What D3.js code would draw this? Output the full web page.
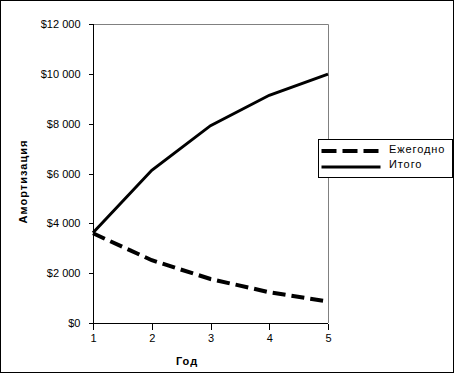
<!DOCTYPE html>
<html>
<head>
<meta charset="utf-8">
<script src="https://cdn.jsdelivr.net/npm/d3@7"></script>
<style>
  body { margin: 0; background: #fff; }
  svg { display: block; }
  text { font-family: "Liberation Sans", Arial, sans-serif; font-size: 11px; fill: #000; }
</style>
</head>
<body>
<div id="chart"></div>
<script>
// ─── Data ─────────────────────────────────────────────────────────────────────
const years = [1, 2, 3, 4, 5];
const annual = [3600, 2520, 1765, 1235, 865];
const total = [3620, 6130, 7920, 9140, 9990];
const yTicks = [0, 2000, 4000, 6000, 8000, 10000, 12000];
const seriesNames = ["Ежегодно", "Итого"];

const W = 454, H = 373;
const margin = { top: 24, right: 126, bottom: 50, left: 93 };
const w = W - margin.left - margin.right;
const h = H - margin.top - margin.bottom;

const svg = d3.select("#chart").append("svg").attr("width", W).attr("height", H);

// outer frame
svg.append("rect").attr("x", 0.5).attr("y", 0.5).attr("width", W - 1).attr("height", H - 1)
  .attr("fill", "#fff").attr("stroke", "#000");

const x = d3.scaleLinear().domain([1, 5]).range([0, w]);
const y = d3.scaleLinear().domain([0, 12000]).range([h, 0]);

const g = svg.append("g").attr("transform", `translate(${margin.left},${margin.top})`);

// plot area border (gray top/right)
g.append("path").attr("d", `M0.5,0.5H${w + 0.5}V${h}`).attr("fill", "none").attr("stroke", "#808080");

const fmt = (d) => "$" + d3.format(",")(d).replace(",", " ");

const yAxis = g.append("g").attr("transform", "translate(0.5,0)")
  .call(d3.axisLeft(y).tickValues(yTicks).tickSize(5).tickPadding(8).tickFormat(fmt));
const xAxis = g.append("g").attr("transform", `translate(0,${h + 0.5})`)
  .call(d3.axisBottom(x).tickValues(years).tickSize(6).tickPadding(5).tickFormat(d3.format("d")));
[yAxis, xAxis].forEach((a) => {
  a.selectAll("path,line").attr("stroke", "#000").attr("shape-rendering", "crispEdges");
});
yAxis.select(".domain").attr("d", `M0,${h}V0`);
xAxis.select(".domain").attr("d", `M0,0H${w}`);

const line = d3.line().x((d, i) => x(years[i])).y((d) => y(d));

g.append("path").datum(annual).attr("fill", "none").attr("stroke", "#000")
  .attr("stroke-width", 4).attr("stroke-dasharray", "13,6").attr("d", line);
g.append("path").datum(total).attr("fill", "none").attr("stroke", "#000")
  .attr("stroke-width", 3).attr("d", line);

// axis titles
svg.append("text").attr("x", 187).attr("y", 365)
  .attr("text-anchor", "middle").attr("font-weight", "bold").attr("letter-spacing", 1).text("Год");
svg.append("text").attr("transform", "translate(27,181.5) rotate(-90)")
  .attr("text-anchor", "middle").attr("font-weight", "bold").attr("letter-spacing", 1).text("Амортизация");

// legend
const lg = svg.append("g").attr("transform", "translate(318.5,139.5)");
lg.append("rect").attr("width", 134).attr("height", 38).attr("fill", "#fff").attr("stroke", "#000");
seriesNames.forEach((name, i) => {
  const yy = 11.5 + i * 16;
  lg.append("line").attr("x1", 3).attr("x2", 62).attr("y1", yy).attr("y2", yy)
    .attr("stroke", "#000").attr("stroke-width", i === 0 ? 4 : 3)
    .attr("stroke-dasharray", i === 0 ? "15,6" : null);
  lg.append("text").attr("x", 70.5).attr("y", yy + 2 - i).attr("letter-spacing", 0.9).text(name);
});
</script>
</body>
</html>
